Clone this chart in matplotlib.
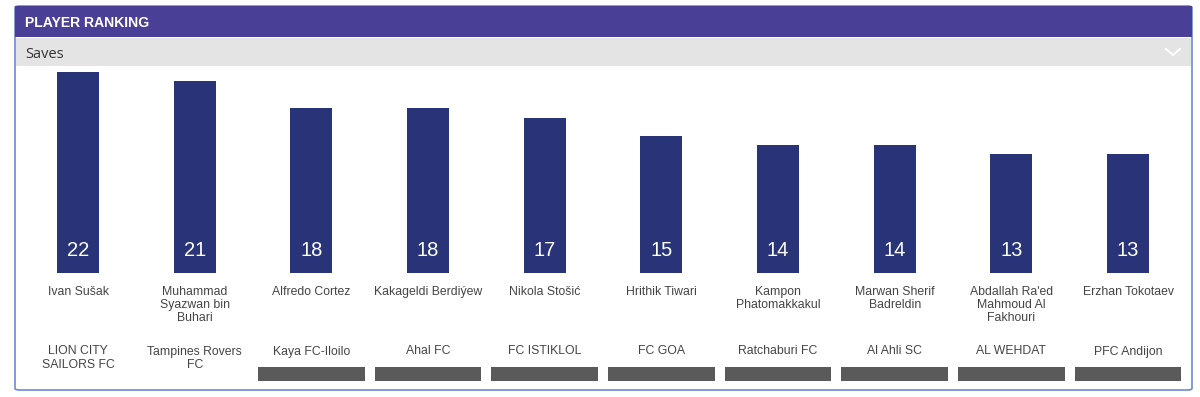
import matplotlib
matplotlib.use("Agg")
import matplotlib.pyplot as plt
from matplotlib.patches import FancyBboxPatch, Rectangle
from matplotlib.transforms import blended_transform_factory

players = ["Ivan Sušak", "Muhammad\nSyazwan bin\nBuhari", "Alfredo Cortez", "Kakageldi Berdiýew",
           "Nikola Stošić", "Hrithik Tiwari", "Kampon\nPhatomakkakul", "Marwan Sherif\nBadreldin",
           "Abdallah Ra'ed\nMahmoud Al\nFakhouri", "Erzhan Tokotaev"]
teams = ["LION CITY\nSAILORS FC", "Tampines Rovers\nFC", "Kaya FC-Iloilo", "Ahal FC", "FC ISTIKLOL",
         "FC GOA", "Ratchaburi FC", "Al Ahli SC", "AL WEHDAT", "PFC Andijon"]
saves = [22, 21, 18, 18, 17, 15, 14, 14, 13, 13]
has_logo_bar = [False, False, True, True, True, True, True, True, True, True]

W, H = 1200, 397
fig = plt.figure(figsize=(W / 100, H / 100), dpi=100)
fig.patch.set_facecolor("white")

def fx(px):
    return px / W

def fy(py):
    return 1 - py / H

# card outline
card = FancyBboxPatch((fx(15), fy(390)), fx(1192) - fx(15), fy(6) - fy(390),
                      boxstyle="round,pad=0,rounding_size=0.004", transform=fig.transFigure,
                      facecolor="white", edgecolor="#6a8ad0", linewidth=1.2, zorder=-3)
fig.patches.append(card)
# header
fig.patches.append(Rectangle((fx(15), fy(37)), fx(1192) - fx(15), fy(6) - fy(37),
                             transform=fig.transFigure, facecolor="#4a3f97", edgecolor="none", zorder=-2))
# grey band
fig.patches.append(Rectangle((fx(16), fy(66)), fx(1191) - fx(16), fy(38) - fy(66),
                             transform=fig.transFigure, facecolor="#e4e4e4", edgecolor="none", zorder=-2))
fig.text(fx(25), fy(27), "PLAYER RANKING", color="white", fontsize=10.1, fontweight="bold",
         ha="left", va="baseline", family="Liberation Sans")
fig.text(fx(25), fy(58), "Saves", color="#333333", fontsize=10.5, ha="left", va="baseline",
         family="Open Sans")
# chevron
fig.lines.append(plt.Line2D([fx(1166), fx(1173), fx(1180)], [fy(49), fy(55), fy(49)],
                            transform=fig.transFigure, color="white", linewidth=1.5, zorder=-1))

ax_left, ax_right = 19.7, 1186.4
ax_top, ax_bottom = 66, 273
ax = fig.add_axes([fx(ax_left), fy(ax_bottom), fx(ax_right) - fx(ax_left), fy(ax_top) - fy(ax_bottom)])
ax.set_zorder(5)
ax.patch.set_visible(False)
x = list(range(len(saves)))
ax.bar(x, saves, width=0.36, color="#283378")
ax.set_xlim(-0.5, len(saves) - 0.5)
ax.set_ylim(0, (ax_bottom - ax_top) / 9.14)
ax.axis("off")

for i, v in enumerate(saves):
    ax.text(i, 2.5, str(v), color="white", fontsize=14.5, ha="center", va="center",
            family="Liberation Sans")

trans = blended_transform_factory(ax.transData, fig.transFigure)

def draw_lines(i, label, first_baseline):
    for k, line in enumerate(label.split("\n")):
        ax.text(i, fy(first_baseline + 13 * k), line, transform=trans, ha="center",
                va="baseline", fontsize=8.8, color="#444444", family="Liberation Sans",
                clip_on=False)

for i in x:
    draw_lines(i, players[i], 295)
    draw_lines(i, teams[i], 354.5)
    if has_logo_bar[i]:
        ax.add_patch(Rectangle((i - 0.458, fy(381)), 0.916, fy(367) - fy(381), transform=trans,
                               facecolor="#5a5a5a", edgecolor="none", clip_on=False))

fig.savefig("out.png", dpi=100, facecolor="white")
